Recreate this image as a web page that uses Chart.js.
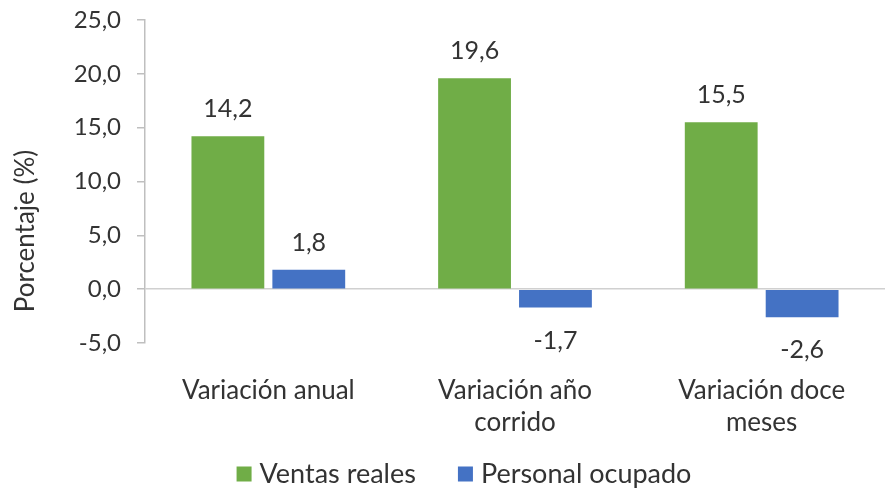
<!DOCTYPE html>
<html>
<head>
<meta charset="utf-8">
<script src="https://cdn.jsdelivr.net/npm/chart.js@4/dist/chart.umd.min.js"></script>
<style>
  html, body { margin: 0; padding: 0; background: #ffffff; }
  #wrap { width: 886px; height: 494px; position: relative; }
</style>
</head>
<body>
<div id="wrap"><canvas id="c" width="886" height="494"></canvas></div>
<script>
const categories = [["Variación anual"], ["Variación año", "corrido"], ["Variación doce", "meses"]];
const ventasReales = [14.2, 19.6, 15.5];
const personalOcupado = [1.8, -1.7, -2.6];
const seriesNames = ["Ventas reales", "Personal ocupado"];
const yTicks = { min: -5, max: 25, step: 5 };
const yTitle = "Porcentaje (%)";

const FONT = "Lato, 'Open Sans', sans-serif";
const TEXT = "#333333";
const fmt = v => v.toFixed(1).replace('.', ',');

const valueLabels = {
  id: 'valueLabels',
  afterDatasetsDraw(chart) {
    const ctx = chart.ctx;
    ctx.save();
    ctx.font = "25px " + FONT;
    ctx.fillStyle = TEXT;
    ctx.textAlign = 'center';
    ctx.textBaseline = 'middle';
    chart.data.datasets.forEach((ds, di) => {
      const meta = chart.getDatasetMeta(di);
      meta.data.forEach((bar, i) => {
        const v = ds.data[i];
        const y = v >= 0 ? bar.y - 27 : bar.y + 33;
        ctx.fillText(fmt(v), bar.x, y);
      });
    });
    ctx.restore();
  }
};

const extras = {
  id: 'extras',
  afterDraw(chart) {
    const ctx = chart.ctx;
    ctx.save();
    ctx.font = "26px " + FONT;
    ctx.fillStyle = TEXT;
    ctx.textAlign = 'center';
    ctx.textBaseline = 'middle';
    ctx.translate(26, 231);
    ctx.rotate(-Math.PI / 2);
    ctx.fillText(yTitle, 0, 0);
    ctx.restore();

    ctx.save();
    ctx.font = "27px " + FONT;
    ctx.textBaseline = 'middle';
    ctx.textAlign = 'left';
    const box = 15, gapText = 8, gapItem = 42, cy = 474, cx = 464;
    const items = chart.data.datasets.map(d => ({ text: d.label, color: d.backgroundColor, w: ctx.measureText(d.label).width }));
    const total = items.reduce((s, it) => s + box + gapText + it.w, 0) + gapItem * (items.length - 1);
    let x = cx - total / 2;
    items.forEach(it => {
      ctx.fillStyle = it.color;
      ctx.fillRect(x, cy - box / 2, box, box);
      x += box + gapText;
      ctx.fillStyle = TEXT;
      ctx.fillText(it.text, x, cy);
      x += it.w + gapItem;
    });
    ctx.restore();
  }
};

new Chart(document.getElementById('c'), {
  type: 'bar',
  data: {
    labels: categories,
    datasets: [
      { label: seriesNames[0], data: ventasReales, backgroundColor: '#70ad47' },
      { label: seriesNames[1], data: personalOcupado, backgroundColor: '#4472c4' }
    ]
  },
  plugins: [valueLabels, extras],
  options: {
    responsive: false,
    animation: false,
    devicePixelRatio: 1,
    layout: { padding: { left: 10, right: 1, top: 20, bottom: 63 } },
    datasets: { bar: { categoryPercentage: 0.656, barPercentage: 0.9 } },
    plugins: {
      legend: { display: false },
      tooltip: { enabled: false }
    },
    scales: {
      x: {
        grid: { display: false },
        border: { display: false },
        afterFit(scale) { scale.height = 88; scale.paddingLeft = 0; scale.paddingRight = 0; },
        ticks: { color: TEXT, font: { family: FONT, size: 26, lineHeight: 1.25 }, padding: 23, maxRotation: 0, autoSkip: false }
      },
      y: {
        min: yTicks.min, max: yTicks.max,
        afterFit(scale) { scale.width = 135; scale.paddingTop = 0; scale.paddingBottom = 0; },
        ticks: { stepSize: yTicks.step, color: TEXT, font: { family: FONT, size: 24 }, padding: 16, callback: v => fmt(v) },
        grid: {
          drawOnChartArea: true,
          tickLength: 8,
          color: c => (c.tick && c.tick.value === 0) ? '#d0d0d0' : 'rgba(0,0,0,0)',
          tickColor: '#bfbfbf',
          lineWidth: 1.5
        },
        border: { display: true, color: '#bfbfbf', width: 1.5 }
      }
    }
  }
});
</script>
</body>
</html>
